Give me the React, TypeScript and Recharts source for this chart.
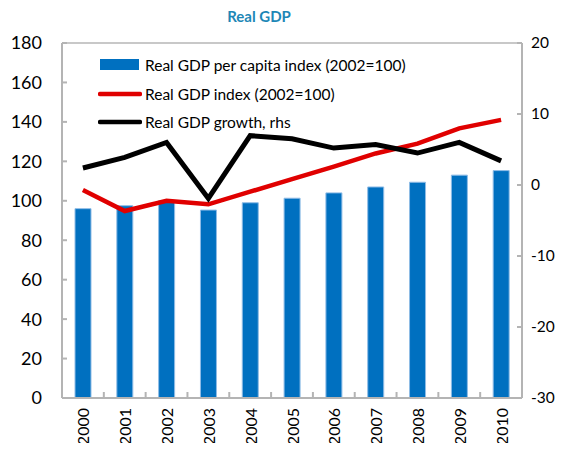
import React from 'react';
import { ComposedChart, Bar, Line, XAxis, YAxis, ReferenceLine } from 'recharts';

const years = ['2000', '2001', '2002', '2003', '2004', '2005', '2006', '2007', '2008', '2009', '2010'];
const perCapitaIndex = [96, 97.5, 100, 95.3, 99, 101.3, 104, 107, 109.4, 113, 115.3];
const gdpIndex = [105.5, 94.8, 100, 98.2, 104.6, 111, 117.3, 124, 129, 136.7, 141];
const gdpGrowth = [2.4, 3.9, 6.0, -1.9, 6.95, 6.5, 5.2, 5.7, 4.5, 6.0, 3.4];
const leftTicks = [0, 20, 40, 60, 80, 100, 120, 140, 160, 180];
const rightTicks = [-30, -20, -10, 0, 10, 20];

const legendItems = [
  { label: 'Real GDP per capita index (2002=100)', type: 'rect', color: '#0070C0' },
  { label: 'Real GDP index (2002=100)', type: 'line', color: '#E00000' },
  { label: 'Real GDP growth, rhs', type: 'line', color: '#000000' },
];

const data = years.map((y, i) => ({
  year: y,
  perCapita: perCapitaIndex[i],
  index: gdpIndex[i],
  growth: gdpGrowth[i],
}));

const FONT = 'Lato, "Open Sans", sans-serif';
const AXIS = '#B4B4B4';
const HALF_BAND = 460 / years.length / 2;

const XTick = (props: any) => {
  const { x, y, payload } = props;
  return (
    <g>
      <line x1={x + HALF_BAND} x2={x + HALF_BAND} y1={y - 1} y2={y - 6} stroke={AXIS} strokeWidth={2} />
      <text
        x={x}
        y={y + 10}
        transform={`rotate(-90, ${x}, ${y + 10})`}
        textAnchor="end"
        dominantBaseline="central"
        fontSize={16}
        fontFamily={FONT}
        fill="#000"
      >
        {payload.value}
      </text>
    </g>
  );
};

const RightTick = (props: any) => {
  const { x, y, payload } = props;
  return (
    <text x={x} y={y} dy="0.35em" textAnchor="start" fontSize={15.5} fontFamily={FONT} fill="#000">
      {payload.value}
    </text>
  );
};

const LegendBox = () => (
  <div style={{ position: 'absolute', left: 90, top: 43, fontFamily: FONT, fontSize: 15.5, color: '#000' }}>
    {legendItems.map((it) => (
      <div key={it.label} style={{ display: 'flex', alignItems: 'center', height: 28.5 }}>
        <svg width={44} height={14} style={{ marginRight: 3 }}>
          {it.type === 'rect' ? (
            <rect x={2} y={1} width={39} height={11} fill={it.color} />
          ) : (
            <line x1={2} x2={42} y1={7} y2={7} stroke={it.color} strokeWidth={4.5} strokeLinecap="round" />
          )}
        </svg>
        <span style={{ whiteSpace: 'nowrap' }}>{it.label}</span>
      </div>
    ))}
  </div>
);

export default function App() {
  return (
    <div style={{ position: 'relative', width: 555, height: 443, marginBottom: -8 }}>
      <div
        style={{
          position: 'absolute',
          left: 0,
          width: 502,
          top: -1,
          textAlign: 'center',
          fontFamily: FONT,
          fontWeight: 700,
          fontSize: 15,
          color: '#1E87B6',
        }}
      >
        Real GDP
      </div>
      <ComposedChart width={555} height={443} data={data} margin={{ top: 35, right: 0, bottom: 0, left: 0 }}>
        <XAxis
          dataKey="year"
          height={53}
          axisLine={{ stroke: AXIS, strokeWidth: 2 }}
          tickLine={false}
          tick={<XTick />}
          interval={0}
          tickSize={0}
          tickMargin={0}
        />
        <YAxis
          yAxisId="left"
          width={54}
          domain={[0, 180]}
          ticks={leftTicks}
          interval={0}
          axisLine={{ stroke: AXIS, strokeWidth: 2 }}
          tickLine={{ stroke: AXIS, strokeWidth: 2 }}
          tickSize={-5}
          tickMargin={25}
          tick={{ fontSize: 18, fontFamily: FONT, fill: '#000' }}
        />
        <YAxis
          yAxisId="right"
          orientation="right"
          width={41}
          domain={[-30, 20]}
          ticks={rightTicks}
          interval={0}
          axisLine={{ stroke: AXIS, strokeWidth: 2 }}
          tickLine={{ stroke: AXIS, strokeWidth: 2 }}
          tickSize={-5}
          tickMargin={14}
          tick={<RightTick />}
        />
        <ReferenceLine yAxisId="left" y={180} stroke="#C8C8C8" strokeWidth={2} />
        <Bar yAxisId="left" dataKey="perCapita" fill="#0070C0" stroke="#8FBCE6" strokeWidth={1} barSize={16} isAnimationActive={false} />
        <Line yAxisId="left" dataKey="index" stroke="#E00000" strokeWidth={4.5} dot={false} activeDot={false} isAnimationActive={false} />
        <Line yAxisId="right" dataKey="growth" stroke="#000000" strokeWidth={5} dot={false} activeDot={false} isAnimationActive={false} />
      </ComposedChart>
      <LegendBox />
    </div>
  );
}
